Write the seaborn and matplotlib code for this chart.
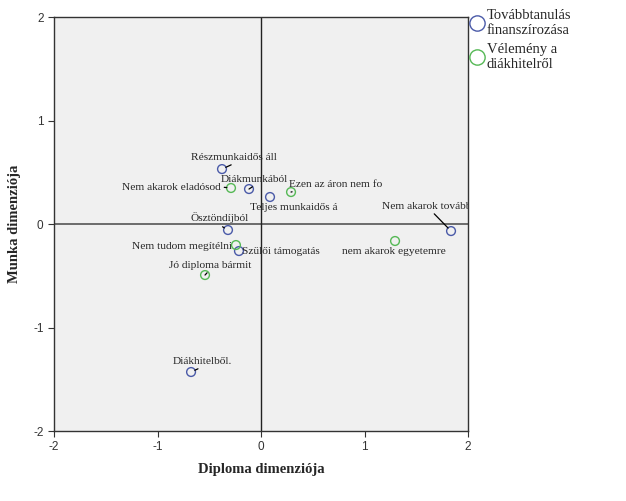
import numpy as np
import pandas as pd
import matplotlib.pyplot as plt
import seaborn as sns
from matplotlib.lines import Line2D

# =====================================
# DATA
# =====================================

groups = ["Továbbtanulás\nfinanszírozása", "Vélemény a\ndiákhitelről"]

fin_labels = ["Részmunkaidős áll", "Diákmunkából", "Teljes munkaidős á",
              "Ösztöndíjból", "Szülői támogatás", "Nem akarok további",
              "Diákhitelből."]
fin_x = [-0.377, -0.116, 0.087, -0.319, -0.213, 1.836, -0.676]
fin_y = [0.531, 0.338, 0.261, -0.058, -0.261, -0.068, -1.430]

op_labels = ["Nem akarok eladósod", "Ezen az áron nem fo", "Nem tudom megítélni",
             "Jó diploma bármit", "nem akarok egyetemre"]
op_x = [-0.290, 0.290, -0.242, -0.541, 1.295]
op_y = [0.348, 0.309, -0.203, -0.493, -0.164]

colors = ["#4a5aa8", "#55b855"]

df = pd.DataFrame({
    "x": fin_x + op_x,
    "y": fin_y + op_y,
    "label": fin_labels + op_labels,
    "group": [groups[0]] * len(fin_x) + [groups[1]] * len(op_x),
})

# label offsets in pixels: (dx, dy, ha, line start on text or None)
offsets = {
    "Részmunkaidős áll": (12, 12, "center", (0.55, 0.0)),
    "Diákmunkából": (5, 10, "center", (0.55, 0.0)),
    "Teljes munkaidős á": (-20, -10, "left", None),
    "Ösztöndíjból": (-8, 12, "center", (0.45, 0.0)),
    "Szülői támogatás": (3, 0, "left", None),
    "Nem akarok további": (-69, 25, "left", (0.53, 0.0)),
    "Diákhitelből.": (11, 11, "center", (0.55, 0.0)),
    "Nem akarok eladósod": (-10, 1, "right", (1.0, 0.5)),
    "Ezen az áron nem fo": (-2, 8, "left", (0.2, 0.0)),
    "Nem tudom megítélni": (-4, -1, "right", None),
    "Jó diploma bármit": (5, 10, "center", (0.5, 0.0)),
    "nem akarok egyetemre": (-53, -11, "left", None),
}

# =====================================
# PLOT
# =====================================

sns.set_style("white")
plt.rcParams["axes.unicode_minus"] = False

fig = plt.figure(figsize=(6.26, 5.01), dpi=100)
ax = fig.add_axes([0.0863, 0.1397, 0.6613, 0.8263])
ax.set_facecolor("#f0f0f0")

ax.axhline(0, color="#555555", lw=1.2, zorder=1)
ax.axvline(0, color="#222222", lw=1.0, zorder=1)

sns.scatterplot(data=df, x="x", y="y", hue="group", palette=colors,
                s=40, linewidth=1.0, legend=False, ax=ax, zorder=3)

coll = ax.collections[0]
fc = coll.get_facecolors()
coll.set_edgecolors(fc)
coll.set_facecolors("none")

for _, r in df.iterrows():
    dx, dy, ha, rel = offsets[r["label"]]
    ap = None
    if rel is not None:
        ap = dict(arrowstyle="-", color="black", lw=0.9,
                  shrinkA=0, shrinkB=3, relpos=rel)
    t = ax.annotate(r["label"], (r["x"], r["y"]), xytext=(dx, dy),
                    textcoords="offset pixels", ha=ha, va="center",
                    fontsize=8.2, family="Liberation Serif",
                    arrowprops=ap, zorder=4)
    t.set_clip_box(ax.bbox)
    t.set_clip_on(True)

ax.set_xlim(-2, 2)
ax.set_ylim(-2, 2)
ax.set_xticks([-2, -1, 0, 1, 2])
ax.set_yticks([-2, -1, 0, 1, 2])
ax.tick_params(axis="both", direction="out", length=4, width=0.8,
               labelsize=8.5, colors="#333333", bottom=True, left=True)
for lbl in ax.get_xticklabels() + ax.get_yticklabels():
    lbl.set_family("Liberation Sans")

for side in ["left", "right", "top", "bottom"]:
    ax.spines[side].set_color("#333333")
    ax.spines[side].set_linewidth(1.0)

ax.set_xlabel("Diploma dimenziója", fontsize=10.5, fontweight="bold",
              family="Liberation Serif", labelpad=7)
ax.set_ylabel("Munka dimenziója", fontsize=10.5, fontweight="bold",
              family="Liberation Serif", labelpad=9)

handles = [Line2D([], [], marker="o", ls="", markersize=11,
                  markerfacecolor="none", markeredgecolor=c, markeredgewidth=1.0)
           for c in colors]
leg = ax.legend(handles, groups, loc="upper left", bbox_to_anchor=(1.0, 1.023),
                frameon=False, handletextpad=0.2, handlelength=1.0,
                labelspacing=0.4, borderaxespad=0.1, borderpad=0.0,
                prop={"family": "Liberation Serif", "size": 10.5})

plt.savefig("out.png", dpi=100)
